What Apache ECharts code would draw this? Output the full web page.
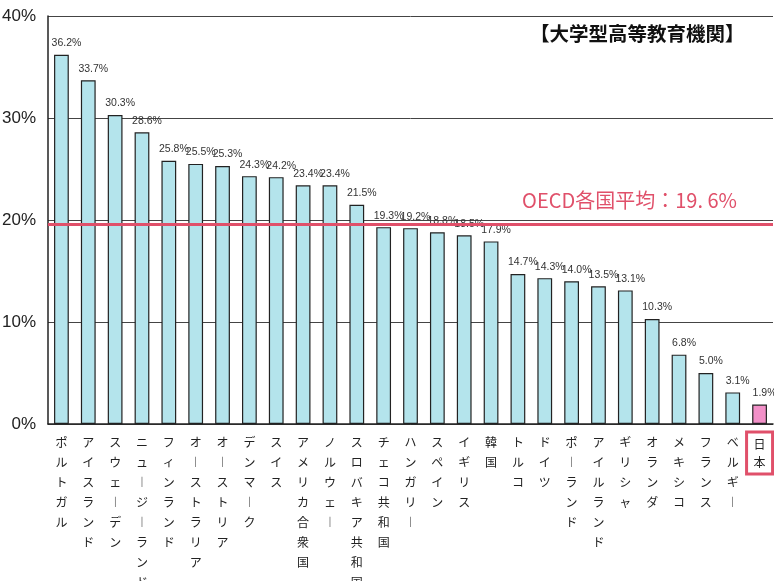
<!DOCTYPE html>
<html>
<head>
  <meta charset="utf-8">
  <title>大学型高等教育機関</title>
  <script src="https://cdn.jsdelivr.net/npm/echarts@6/dist/echarts.min.js"></script>
  <style>
    html, body { margin: 0; padding: 0; background: #fff; }
    #chart { width: 774px; height: 581px; }
  </style>
</head>
<body>
  <div id="chart"></div>
  <script>
    // 国名と値（%）
    const paises = ['ポルトガル', 'アイスランド', 'スウェーデン', 'ニュージーランド', 'フィンランド',
      'オーストラリア', 'オーストリア', 'デンマーク', 'スイス', 'アメリカ合衆国', 'ノルウェー',
      'スロバキア共和国', 'チェコ共和国', 'ハンガリー', 'スペイン', 'イギリス', '韓国', 'トルコ',
      'ドイツ', 'ポーランド', 'アイルランド', 'ギリシャ', 'オランダ', 'メキシコ', 'フランス',
      'ベルギー', '日本'];
    const valores = [36.2, 33.7, 30.3, 28.6, 25.8, 25.5, 25.3, 24.3, 24.2, 23.4, 23.4,
      21.5, 19.3, 19.2, 18.8, 18.5, 17.9, 14.7, 14.3, 14.0, 13.5, 13.1, 10.3,
      6.8, 5.0, 3.1, 1.9];
    const promedioOECD = 19.6;
    const etiquetaOECD = 'OECD各国平均：19. 6%';
    const titulo = '【大学型高等教育機関】';
    const yTicks = [0, 10, 20, 30, 40];
    const destacado = '日本';

    const fuenteNum = '"Liberation Sans Narrow", "Liberation Sans", sans-serif';
    const fuenteJp = '"Noto Sans CJK JP", "Noto Sans", sans-serif';
    const rojo = '#e0506a';

    var myChart = echarts.init(document.getElementById('chart'));

    // texto vertical: un carácter por línea, ー como barra vertical
    function vertical(nombre) {
      return nombre.split('').map(c => c === 'ー' ? '︱' : c).join('\n');
    }

    const categorias = paises.map(p => {
      if (p !== destacado) return p;
      return {
        value: p,
        textStyle: { borderColor: rojo, borderWidth: 3, padding: [3, 7, 3, 7], lineHeight: 18 }
      };
    });

    const datos = valores.map((v, i) => {
      const item = { value: v };
      if (paises[i] === destacado) {
        item.itemStyle = { color: '#f290c8' };
      }
      return item;
    });

    var option = {
      animation: false,
      backgroundColor: '#ffffff',
      title: {
        text: titulo,
        left: 525,
        top: 19,
        textStyle: { fontFamily: fuenteJp, fontSize: 19.5, fontWeight: 'bold', color: '#111' }
      },
      grid: { left: 48, right: 1, top: 16, bottom: 157, outerBoundsMode: 'none', containLabel: false },
      xAxis: {
        type: 'category',
        data: categorias,
        axisLine: { lineStyle: { color: '#222', width: 1.5 } },
        axisTick: { inside: true, length: 4, lineStyle: { color: '#333' } },
        axisLabel: {
          interval: 0,
          margin: 8,
          verticalAlign: 'top',
          formatter: vertical,
          fontFamily: fuenteJp,
          fontSize: 12,
          lineHeight: 20,
          color: '#222'
        }
      },
      yAxis: {
        type: 'value',
        min: yTicks[0],
        max: yTicks[yTicks.length - 1],
        interval: 10,
        axisLine: { show: true, lineStyle: { color: '#222', width: 1.5 } },
        axisTick: { show: false },
        splitLine: { lineStyle: { color: '#444', width: 1 } },
        axisLabel: {
          margin: 12,
          formatter: '{value}%',
          fontFamily: fuenteNum,
          fontSize: 17,
          color: '#222'
        }
      },
      series: [
        {
          type: 'bar',
          data: datos,
          barWidth: '55%',
          itemStyle: { color: '#b4e4ec', borderColor: '#222', borderWidth: 1.2 },
          label: {
            show: true,
            position: 'top',
            distance: 6,
            offset: [5, 0],
            formatter: p => p.value.toFixed(1) + '%',
            fontFamily: fuenteNum,
            fontSize: 10.5,
            color: '#333'
          },
          markLine: {
            silent: true,
            symbol: 'none',
            lineStyle: { color: rojo, width: 3, type: 'solid' },
            label: {
              show: true,
              position: 'insideEndTop',
              formatter: etiquetaOECD,
              distance: [36, 14],
              fontFamily: fuenteJp,
              fontSize: 20,
              color: rojo
            },
            data: [{ yAxis: promedioOECD }]
          }
        }
      ]
    };

    myChart.setOption(option);
  </script>
</body>
</html>
